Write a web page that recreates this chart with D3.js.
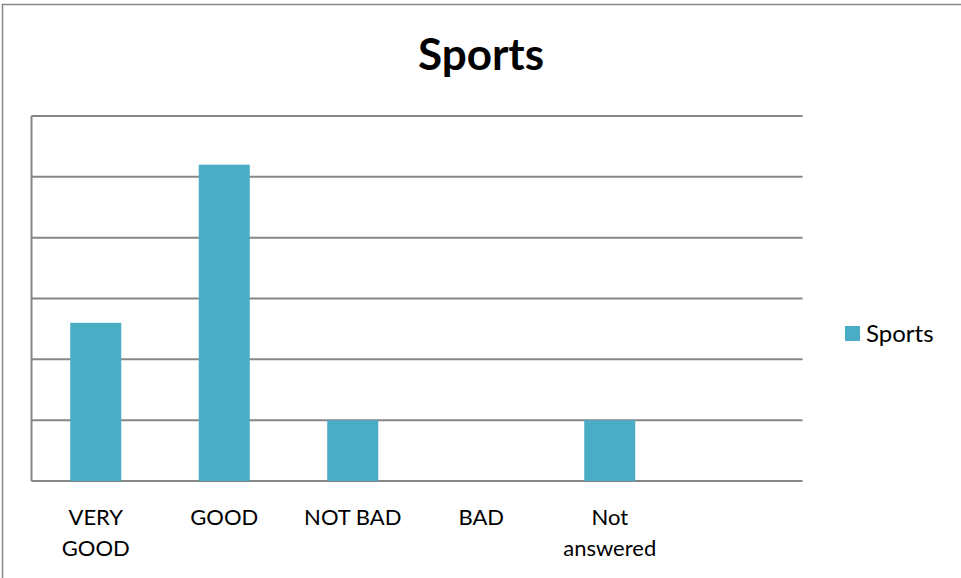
<!DOCTYPE html>
<html>
<head>
<meta charset="utf-8">
<script src="https://cdn.jsdelivr.net/npm/d3@7"></script>
<style>
  html, body { margin: 0; padding: 0; background: #fff; }
  svg text { font-family: Lato, "Open Sans", sans-serif; fill: #000; }
</style>
</head>
<body>
<svg id="chart" width="961" height="578"></svg>
<script>
// Survey answers for the "Sports" question
const categories = ["VERY GOOD", "GOOD", "NOT BAD", "BAD", "Not answered", ""];
const categoryLines = [["VERY", "GOOD"], ["GOOD"], ["NOT BAD"], ["BAD"], ["Not", "answered"], []];
const sportsValues = [2.6, 5.2, 1, 0, 1, null];
const gridTicks = [0, 1, 2, 3, 4, 5, 6];
const seriesName = "Sports";

const svg = d3.select("#chart");
const barColor = "#4BACC6";
const gridColor = "#868686";

// outer chart frame
svg.append("rect")
  .attr("x", 2.5).attr("y", 4.5)
  .attr("width", 1000).attr("height", 1000)
  .attr("fill", "none")
  .attr("stroke", gridColor)
  .attr("stroke-width", 1.5);

const plot = { left: 31.5, right: 802.5, top: 116, bottom: 481 };

const x = d3.scaleBand()
  .domain(d3.range(categories.length))
  .range([plot.left, plot.right])
  .paddingInner(0.603)
  .paddingOuter(0.3015);

const y = d3.scaleLinear()
  .domain([0, 6])
  .range([plot.bottom, plot.top]);

// horizontal gridlines
svg.append("g")
  .selectAll("line")
  .data(gridTicks)
  .join("line")
  .attr("x1", plot.left).attr("x2", plot.right)
  .attr("y1", d => y(d)).attr("y2", d => y(d))
  .attr("stroke", gridColor)
  .attr("stroke-width", 2);

// vertical value axis line
svg.append("line")
  .attr("x1", plot.left).attr("x2", plot.left)
  .attr("y1", y(6)).attr("y2", y(0))
  .attr("stroke", gridColor)
  .attr("stroke-width", 2);

// bars
svg.append("g")
  .selectAll("rect")
  .data(sportsValues.map((v, i) => ({ v, i })).filter(d => d.v))
  .join("rect")
  .attr("x", d => x(d.i))
  .attr("width", x.bandwidth())
  .attr("y", d => y(d.v))
  .attr("height", d => y(0) - y(d.v))
  .attr("fill", barColor);

// category labels
const labels = svg.append("g")
  .selectAll("text")
  .data(categoryLines.map((lines, i) => ({ lines, i })))
  .join("text")
  .attr("text-anchor", "middle")
  .attr("font-size", 22)
  .attr("x", d => x(d.i) + x.bandwidth() / 2)
  .attr("y", 525);
labels.selectAll("tspan")
  .data(d => d.lines.map(t => ({ t, cx: x(d.i) + x.bandwidth() / 2 })))
  .join("tspan")
  .attr("x", d => d.cx)
  .attr("dy", (d, j) => j === 0 ? 0 : 31)
  .text(d => d.t);

// title
svg.append("text")
  .attr("x", 481).attr("y", 70)
  .attr("text-anchor", "middle")
  .attr("font-size", 44)
  .attr("font-weight", "bold")
  .text(seriesName);

// legend
const legend = svg.append("g");
legend.append("rect")
  .attr("x", 845).attr("y", 326)
  .attr("width", 15).attr("height", 15)
  .attr("fill", barColor);
legend.append("text")
  .attr("x", 866).attr("y", 342)
  .attr("font-size", 24)
  .text(seriesName);
</script>
</body>
</html>
